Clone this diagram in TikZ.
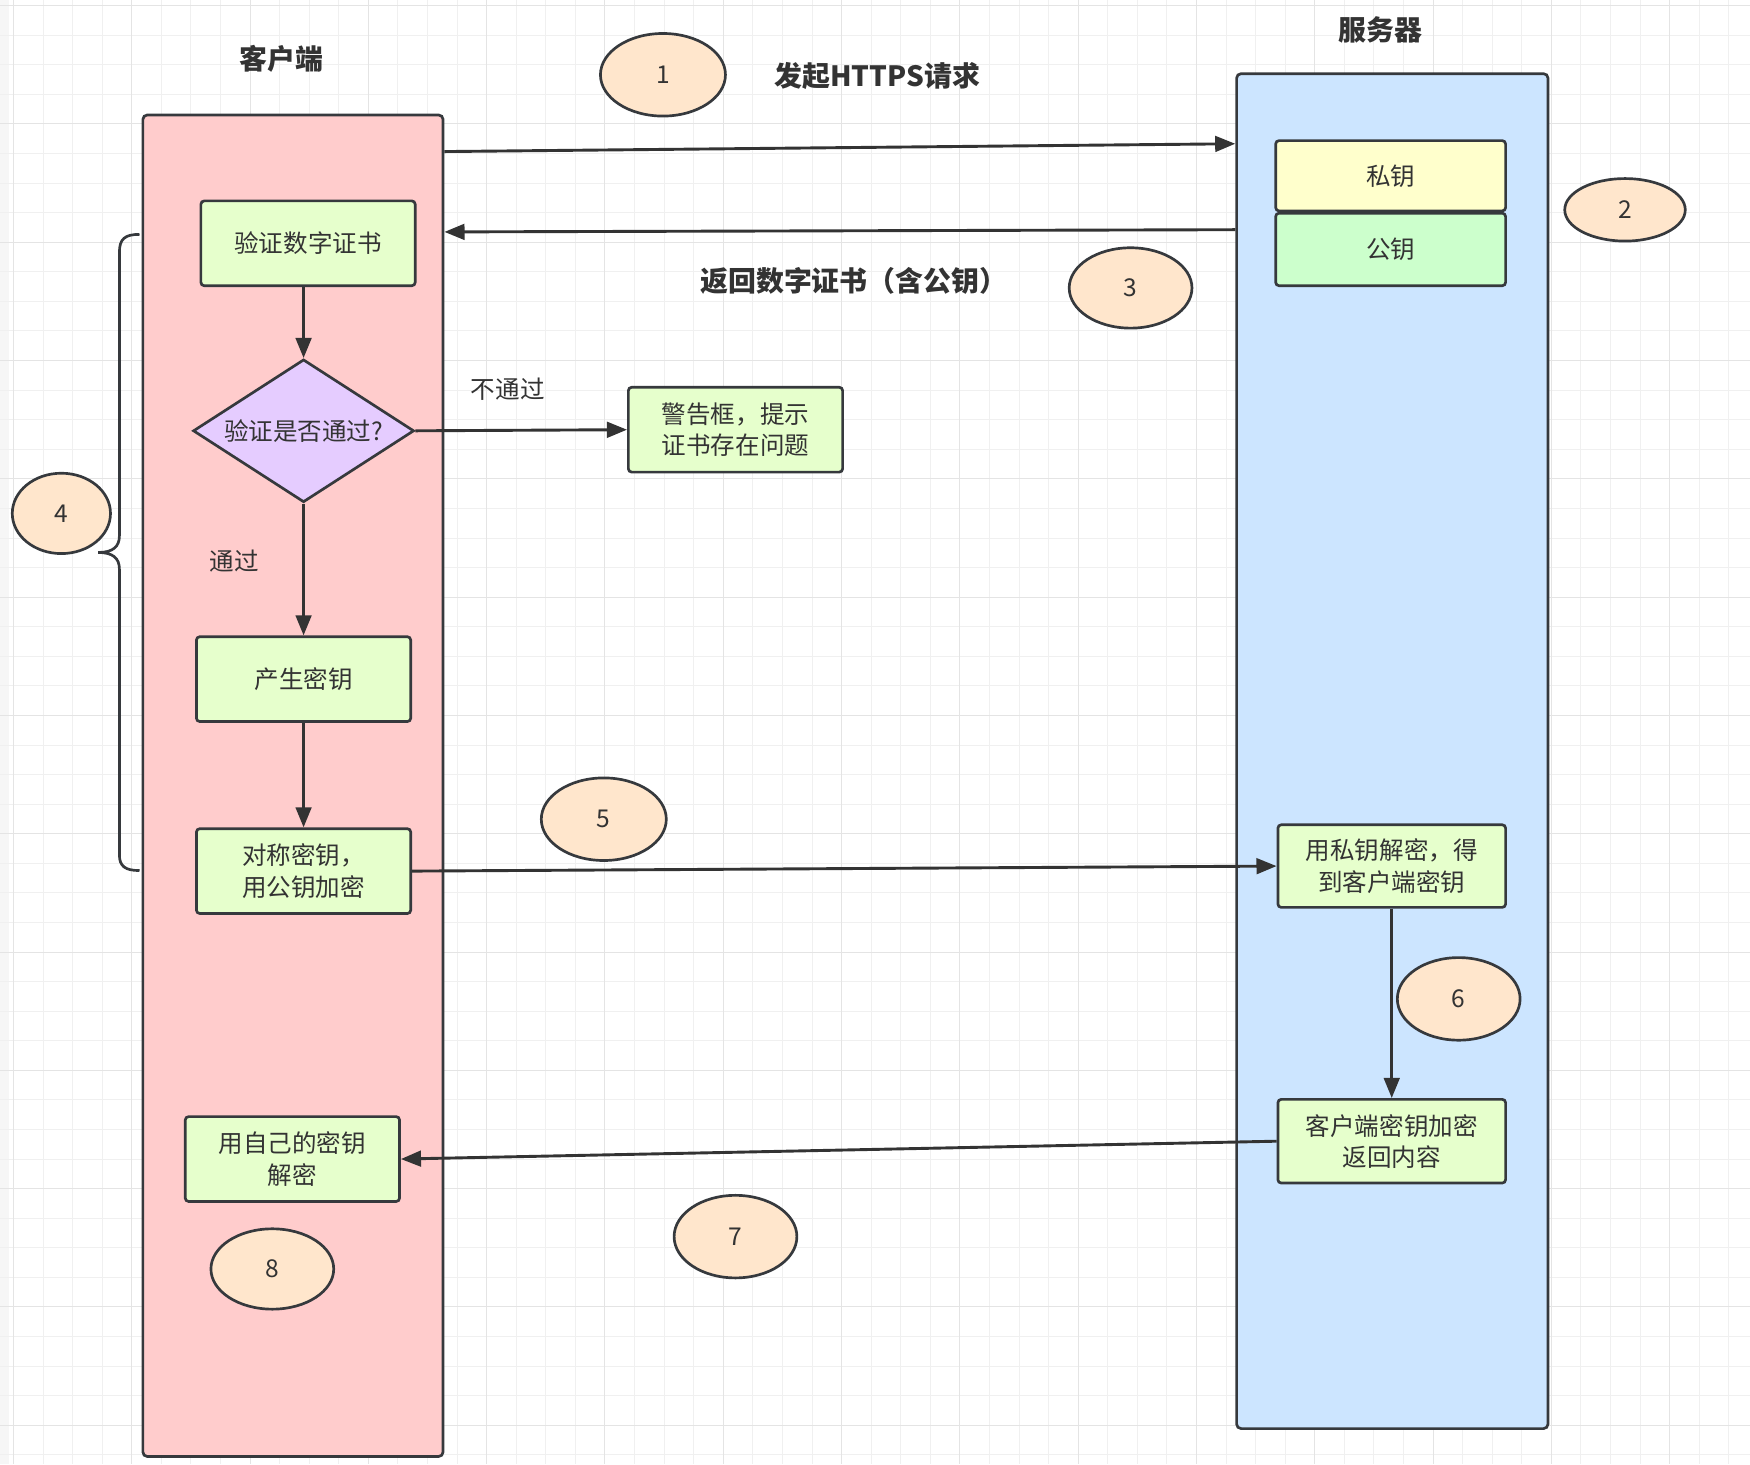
\documentclass[tikz,border=0pt]{standalone}
\usepackage{fontspec}
\setmainfont{Noto Sans CJK SC}
\usetikzlibrary{shapes.geometric,arrows.meta}
\definecolor{ink}{HTML}{333333}
\definecolor{edge}{HTML}{36393D}
\definecolor{clientc}{HTML}{FFCCCC}
\definecolor{serverc}{HTML}{CCE5FF}
\definecolor{boxc}{HTML}{E6FFCC}
\definecolor{privc}{HTML}{FFFFCC}
\definecolor{pubc}{HTML}{CCFFCC}
\definecolor{diac}{HTML}{E5CCFF}
\definecolor{circc}{HTML}{FFE6CC}
\definecolor{gridminor}{HTML}{F0F0F0}
\definecolor{gridmajor}{HTML}{E4E4E4}
\begin{document}
\begin{tikzpicture}[x=1pt,y=-1pt,
  lane/.style={draw=edge, line width=2.4pt, rounded corners=4pt, inner sep=0pt},
  box/.style={draw=edge, fill=boxc, line width=2.4pt, rounded corners=3pt, text=ink,
    align=center, minimum width=192pt, minimum height=76pt, inner sep=2pt,
    font=\fontsize{22}{28}\selectfont},
  keybox/.style={box, minimum width=206pt},
  dia/.style={diamond, draw=edge, fill=diac, line width=2.4pt, text=ink, aspect=1.55,
    inner sep=0pt, minimum width=198pt, minimum height=128pt,
    font=\fontsize{22}{28}\selectfont},
  circ/.style={ellipse, draw=edge, fill=circc, line width=2.4pt, text=ink, inner sep=0pt,
    font=\fontsize{22}{26}\selectfont},
  title/.style={text=ink, font=\fontsize{25}{30}\selectfont\bfseries},
  lbl/.style={text=ink, font=\fontsize{22}{26}\selectfont},
  arr/.style={draw=ink, line width=2.6pt, -{Triangle[length=18pt,width=14pt]}}
]
\useasboundingbox (0,0) rectangle (1568,1312);
\fill[white] (0,0) rectangle (1568,1312);
\fill[gridminor!60] (0,0) rectangle (8,1312);
% grid
\foreach \i in {0,...,59} {
  \draw[gridminor, line width=0.8pt] ({12+\i*26.5},0) -- ({12+\i*26.5},1312);
}
\foreach \i in {0,...,49} {
  \draw[gridminor, line width=0.8pt] (0,{5+\i*26.5}) -- (1568,{5+\i*26.5});
}
\foreach \i in {0,...,14} {
  \draw[gridmajor, line width=0.9pt] ({12+\i*106},0) -- ({12+\i*106},1312);
}
\foreach \i in {0,...,12} {
  \draw[gridmajor, line width=0.9pt] (0,{5+\i*106}) -- (1568,{5+\i*106});
}

% lanes
\node[lane, fill=clientc, minimum width=269pt, minimum height=1202pt] (client) at (262.5,704) {};
\node[lane, fill=serverc, minimum width=279pt, minimum height=1214pt] (server) at (1247.5,673) {};

% titles
\node[title] (tclient) at (252,53) {客户端};
\node[title] (tserver) at (1237,27) {服务器};
\node[title] (treq) at (786,68) {发起HTTPS请求};
\node[title] (tret) at (765,252) {返回数字证书（含公钥）};

% server keys
\node[keybox, fill=privc, minimum height=63pt] (priv) at (1246,157.5) {私钥};
\node[keybox, fill=pubc, minimum height=65pt] (pub) at (1246,223.5) {公钥};

% client flow
\node[box] (verify) at (276,218) {验证数字证书};
\node[dia] (check) at (272,386) {验证是否通过?};
\node[box] (warn) at (659,385) {警告框，提示\\证书存在问题};
\node[box] (gen) at (272,608.5) {产生密钥};
\node[box] (sym) at (272,780.5) {对称密钥，\\用公钥加密};
\node[box] (own) at (262,1038.5) {用自己的密钥\\解密};

% server flow
\node[box, minimum width=204pt, minimum height=74pt] (dec) at (1247,776) {用私钥解密，得\\到客户端密钥};
\node[box, minimum width=204pt, minimum height=75pt] (enc) at (1247,1022.5) {客户端密钥加密\\返回内容};

% labels
\node[lbl] (lno) at (455,349) {不通过};
\node[lbl] (lyes) at (210,503) {通过};

% step circles
\node[circ, minimum width=112pt, minimum height=74pt] (c1) at (594,67) {1};
\node[circ, minimum width=108pt, minimum height=56pt] (c2) at (1456,188) {2};
\node[circ, minimum width=110pt, minimum height=72pt] (c3) at (1013,258) {3};
\node[circ, minimum width=88pt, minimum height=72pt] (c4) at (55,460) {4};
\node[circ, minimum width=112pt, minimum height=74pt] (c5) at (541,734) {5};
\node[circ, minimum width=110pt, minimum height=74pt] (c6) at (1307,895) {6};
\node[circ, minimum width=110pt, minimum height=74pt] (c7) at (659,1108) {7};
\node[circ, minimum width=110pt, minimum height=72pt] (c8) at (244,1137) {8};

% brace
\draw[edge, line width=2.4pt]
  (125,210) .. controls (112,210) and (107,214) .. (107,226) -- (107,480)
  .. controls (107,490) and (101,495) .. (88,495)
  .. controls (101,495) and (107,500) .. (107,510) -- (107,766)
  .. controls (107,776) and (112,780) .. (125,780);

% connectors
\draw[arr] ([yshift=-34pt]client.north east) -- ([yshift=-64pt]server.north west);
\draw[arr] ([yshift=-141pt]server.north west) -- ([yshift=-106pt]client.north east);
\draw[arr] (verify.south -| check.north) -- (check.north);
\draw[arr] (check.east) -- (warn.west);
\draw[arr] (check.south) -- (gen.north);
\draw[arr] (gen.south) -- (sym.north);
\draw[arr] (sym.east) -- (dec.west);
\draw[arr] (dec.south) -- (enc.north);
\draw[arr] (enc.west) -- (own.east);
\end{tikzpicture}
\end{document}
